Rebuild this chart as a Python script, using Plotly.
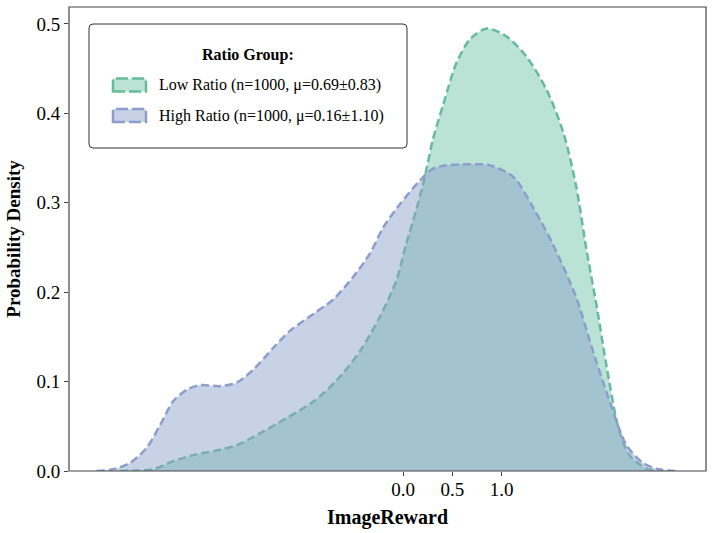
"""KDE comparison of ImageReward for low vs high ratio groups."""

import plotly.graph_objects as go

# Low Ratio group, density curve
low_x = [-2.88, -2.70, -2.54, -2.34, -2.13, -1.90, -1.69, -1.46, -1.19, -0.91,
         -0.68, -0.44, -0.24, -0.07, 0.03, 0.14, 0.22, 0.30, 0.41, 0.54,
         0.68, 0.85, 1.05, 1.25, 1.46, 1.63, 1.76, 1.86, 1.97, 2.07,
         2.19, 2.30, 2.47, 2.62]
low_y = [0.0, 0.0005, 0.002, 0.011, 0.018, 0.023, 0.029, 0.042, 0.059, 0.078,
         0.101, 0.134, 0.172, 0.213, 0.254, 0.295, 0.329, 0.370, 0.411, 0.456,
         0.483, 0.495, 0.486, 0.464, 0.426, 0.378, 0.318, 0.250, 0.183, 0.116,
         0.048, 0.018, 0.003, 0.0]

# High Ratio group
high_x = [-3.12, -2.95, -2.78, -2.61, -2.47, -2.34, -2.20, -2.07, -1.86, -1.69,
          -1.52, -1.32, -1.15, -0.91, -0.71, -0.51, -0.34, -0.20, -0.03, 0.17,
          0.30, 0.44, 0.66, 0.88, 1.12, 1.32, 1.52, 1.76, 1.93, 2.10,
          2.27, 2.44, 2.60, 2.78]
high_y = [0.0, 0.002, 0.009, 0.026, 0.052, 0.078, 0.091, 0.096, 0.095, 0.099,
          0.114, 0.138, 0.157, 0.176, 0.192, 0.217, 0.243, 0.273, 0.299, 0.325,
          0.338, 0.342, 0.343, 0.342, 0.329, 0.295, 0.254, 0.194, 0.134, 0.078,
          0.029, 0.009, 0.002, 0.0]

legend_title = "Ratio Group:"
series_names = ["Low Ratio (n=1000, μ=0.69±0.83)", "High Ratio (n=1000, μ=0.16±1.10)"]
x_ticks = [0.0, 0.5, 1.0]
y_ticks = [0.0, 0.1, 0.2, 0.3, 0.4, 0.5]

FONT = "Liberation Serif, Times New Roman, serif"
GREEN = "rgb(102,187,155)"
GREEN_FILL = "rgba(102,194,165,0.45)"
BLUE = "rgb(141,157,205)"
BLUE_FILL = "rgba(141,160,203,0.48)"
DASH = "8px,4px"
FRAME = "#444444"

# plot area in pixels
L, R, T, B = 69, 7, 7, 62
W, H = 713 - L - R, 533 - T - B


def px(x):
    return (x - L) / W


def py(y):
    return (533 - B - y) / H


fig = go.Figure()
styles = [(GREEN, GREEN_FILL), (BLUE, BLUE_FILL)]
for xs, ys, name, (line_c, fill_c) in zip([low_x, high_x], [low_y, high_y], series_names, styles):
    fig.add_trace(
        go.Scatter(
            x=xs,
            y=ys,
            name=name,
            mode="lines",
            line=dict(color=line_c, width=2.5, dash=DASH, shape="spline", smoothing=0.8),
            fill="tozeroy",
            fillcolor=fill_c,
            showlegend=False,
        )
    )

# plot frame
fig.add_shape(type="rect", xref="paper", yref="paper", x0=0, x1=1, y0=0, y1=1,
              line=dict(color=FRAME, width=1.2), layer="above")

# legend frame with rounded corners
x0, x1, y0, y1 = px(89), px(407), py(148), py(24)
rx, ry = 4 / W, 4 / H
path = (
    f"M {x0 + rx},{y0} L {x1 - rx},{y0} Q {x1},{y0} {x1},{y0 + ry} "
    f"L {x1},{y1 - ry} Q {x1},{y1} {x1 - rx},{y1} "
    f"L {x0 + rx},{y1} Q {x0},{y1} {x0},{y1 - ry} "
    f"L {x0},{y0 + ry} Q {x0},{y0} {x0 + rx},{y0} Z"
)
fig.add_shape(type="path", xref="paper", yref="paper", path=path,
              line=dict(color="#333333", width=1), fillcolor="white", layer="above")
fig.add_annotation(xref="paper", yref="paper", x=px(248), y=py(55), text=f"<b>{legend_title}</b>",
                   showarrow=False, xanchor="center", yanchor="middle",
                   font=dict(family=FONT, size=16, color="black"))
for k, (name, (line_c, fill_c)) in enumerate(zip(series_names, styles)):
    top = 78.5 + 30.5 * k
    fig.add_shape(type="rect", xref="paper", yref="paper",
                  x0=px(113), x1=px(146), y0=py(top + 13), y1=py(top),
                  line=dict(color=line_c, width=2.5, dash="12px,4px"), fillcolor=fill_c, layer="above")
    fig.add_annotation(xref="paper", yref="paper", x=px(157), y=py(top + 6.5), text=name,
                       showarrow=False, xanchor="left", yanchor="middle",
                       font=dict(family=FONT, size=16, color="black"))

axis_common = dict(
    ticks="outside",
    ticklen=4,
    tickcolor=FRAME,
    showgrid=False,
    zeroline=False,
    showline=False,
    automargin=False,
    tickfont=dict(family=FONT, size=19),
)

fig.update_layout(
    width=713,
    height=533,
    margin=dict(l=L, r=R, t=T, b=B),
    paper_bgcolor="white",
    plot_bgcolor="white",
    font=dict(family=FONT, color="black"),
    showlegend=False,
    xaxis=dict(
        range=[-3.40, 3.08],
        tickvals=x_ticks,
        ticktext=[f"{v:.1f}" for v in x_ticks],
        ticklabelstandoff=-3,
        title=dict(text="<b>ImageReward</b>", font=dict(family=FONT, size=20), standoff=11),
        **axis_common,
    ),
    yaxis=dict(
        range=[0, 0.519],
        tickvals=y_ticks,
        ticktext=[f"{v:.1f}" for v in y_ticks],
        title=dict(text="<b>Probability Density</b>", font=dict(family=FONT, size=19), standoff=10),
        **axis_common,
    ),
)

fig.write_html(
    "out.html",
    config={"displayModeBar": False},
    post_script="document.body.style.margin='0';",
)
